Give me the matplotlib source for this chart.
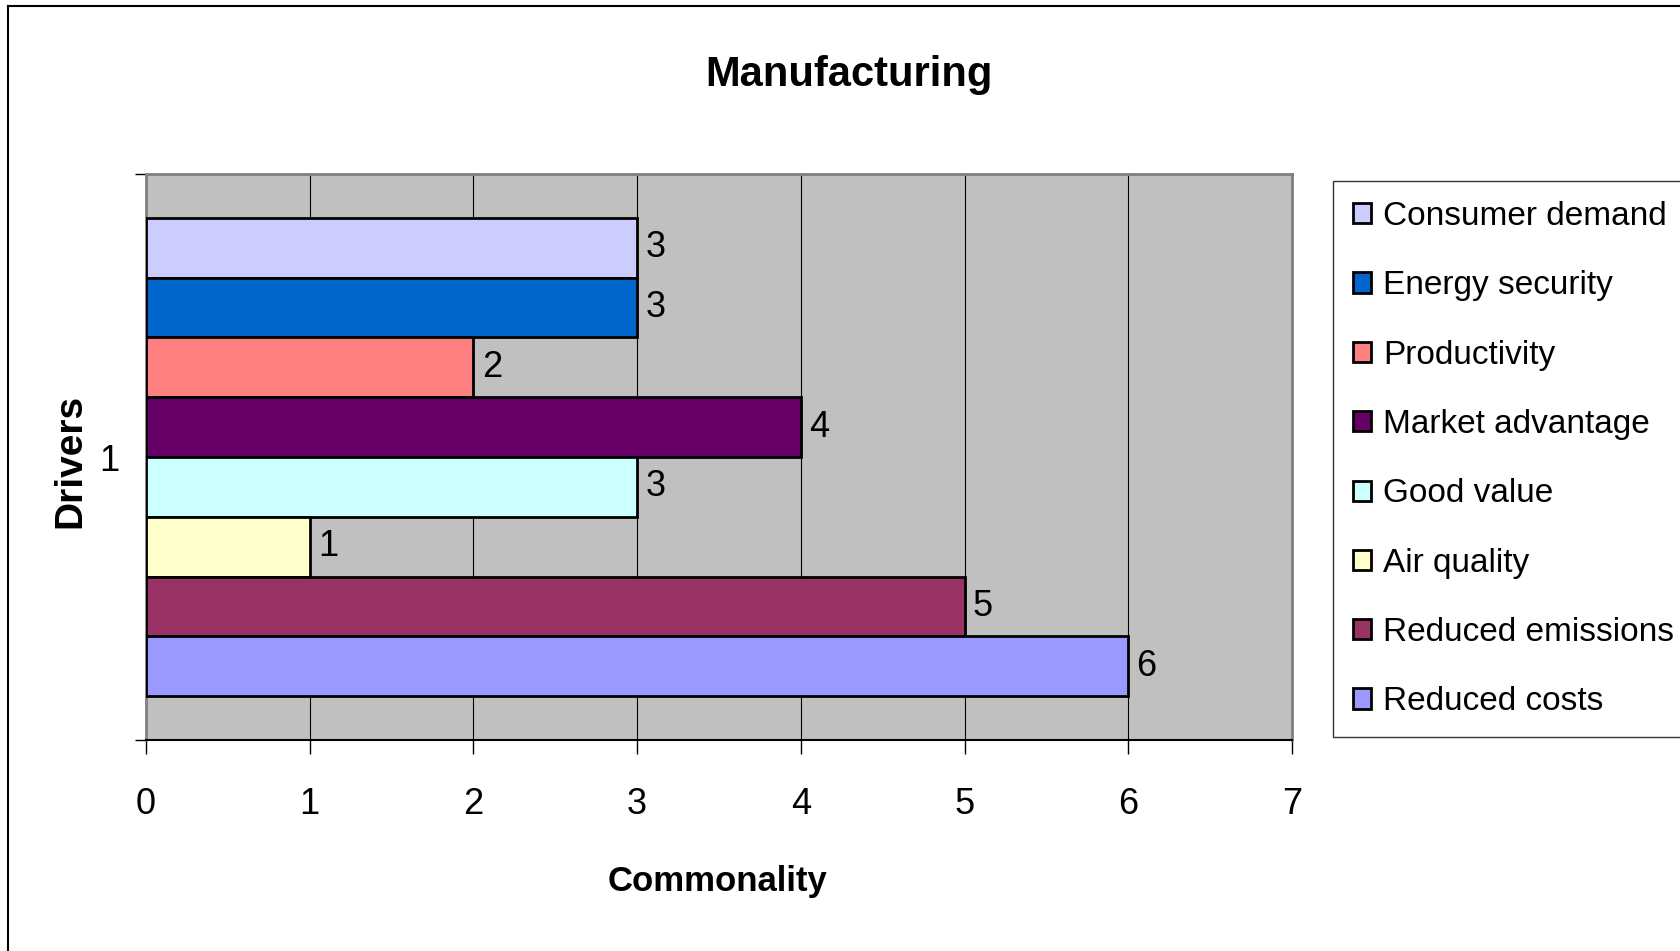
import numpy as np
import matplotlib.pyplot as plt
from matplotlib.lines import Line2D

# datos del grafico
drivers = ['Consumer demand', 'Energy security', 'Productivity', 'Market advantage',
           'Good value', 'Air quality', 'Reduced emissions', 'Reduced costs']
commonality = [3, 3, 2, 4, 3, 1, 5, 6]
colores = ['#CCCCFF', '#0066CC', '#FF8080', '#660066',
           '#CCFFFF', '#FFFFCC', '#993366', '#9999FF']
categoria = ['1']

plt.rcParams['font.family'] = ['Liberation Sans', 'DejaVu Sans']

fig = plt.figure(figsize=(16.8, 9.51), dpi=100)
ax = fig.add_axes([146/1680, 1 - 740/951, (1292 - 146)/1680, (740 - 174)/951])
ax.set_facecolor('#C0C0C0')

h = 0.845 / len(drivers)
for i, (nombre, valor, color) in enumerate(zip(drivers, commonality, colores)):
    y = (len(drivers)/2 - 0.5 - i) * h
    barras = ax.barh(y, valor, height=h, color=color, edgecolor='black',
                     linewidth=2, label=nombre, zorder=3)
    ax.bar_label(barras, padding=6, fontsize=26)

ax.set_xlim(0, 7)
ax.set_ylim(-0.5, 0.5)
ax.set_xticks(range(8))
ax.tick_params(axis='x', direction='out', length=10, width=1, pad=24, labelsize=26)
ax.grid(axis='x', color='black', linewidth=0.8, zorder=1)

ax.set_yticks([-0.5, 0.5])
ax.set_yticklabels(['', ''])
ax.tick_params(axis='y', which='major', direction='out', length=8, width=1)
ax.set_yticks([0], minor=True)
ax.set_yticklabels(categoria, minor=True)
ax.tick_params(axis='y', which='minor', length=0, pad=19, labelsize=26)

for lado in ['top', 'right', 'left']:
    ax.spines[lado].set_color('#808080')
    ax.spines[lado].set_linewidth(2)
ax.spines['bottom'].set_color('black')
ax.spines['bottom'].set_linewidth(1.5)

fig.text(849/1680, 1 - 75/951, 'Manufacturing', ha='center', va='center',
         fontsize=30, fontweight='bold')
fig.text(718/1680, 1 - 881/951, 'Commonality', ha='center', va='center',
         fontsize=25, fontweight='bold')
fig.text(70/1680, 1 - 461/951, 'Drivers', ha='center', va='center', rotation=90,
         fontsize=28, fontweight='bold')

leg = fig.legend(loc='upper left', bbox_to_anchor=(1333/1680, 1 - 181/951),
                 fontsize=24, frameon=True, fancybox=False, edgecolor='black',
                 handlelength=0.55, handleheight=0.55, handletextpad=0.36,
                 labelspacing=1.15, borderpad=0.6, borderaxespad=0)
leg.get_frame().set_linewidth(1)

# borde del grafico
fig.add_artist(Line2D([8/1680, 8/1680], [0, 1 - 6/951], color='black', linewidth=1.5))
fig.add_artist(Line2D([8/1680, 1], [1 - 6/951, 1 - 6/951], color='black', linewidth=1.5))

fig.savefig('out.png', dpi=100)
